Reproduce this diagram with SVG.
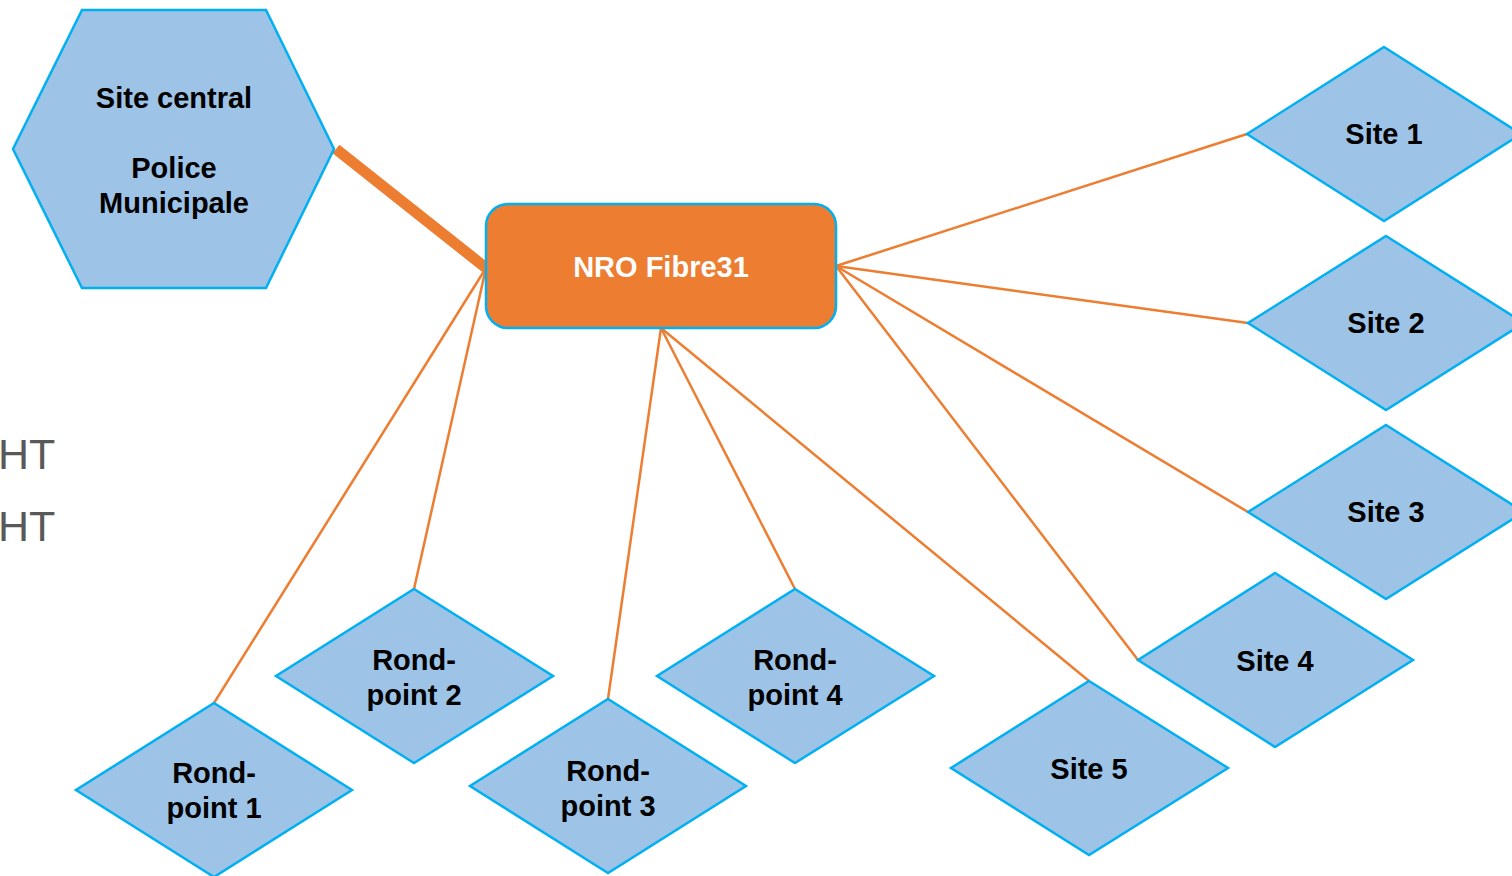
<svg xmlns="http://www.w3.org/2000/svg" width="1512" height="876" viewBox="0 0 1512 876">
<style>
.shape{fill:#9DC3E6;stroke:#00B0F0;stroke-width:2.5}
.lbl{font-family:"Liberation Sans",Arial,sans-serif;font-weight:bold;font-size:29px;fill:#000;text-anchor:middle}
.conn{stroke:#ED7D31;stroke-width:2.5;fill:none}
.ht{font-family:"Liberation Sans",Arial,sans-serif;font-size:43px;fill:#595959}
</style>
<rect width="1512" height="876" fill="#fff"/>
<text class="ht" x="-2" y="469">HT</text>
<text class="ht" x="-2" y="541">HT</text>
<g id="connectors">
<line x1="336" y1="149" x2="486" y2="268" stroke="#ED7D31" stroke-width="11"/>
<line class="conn" x1="486" y1="268" x2="214" y2="703"/>
<line class="conn" x1="486" y1="268" x2="414" y2="589"/>
<line class="conn" x1="661" y1="328" x2="608" y2="699"/>
<line class="conn" x1="661" y1="328" x2="795" y2="589"/>
<line class="conn" x1="661" y1="328" x2="1089" y2="681"/>
<line class="conn" x1="836" y1="266" x2="1138" y2="660"/>
<line class="conn" x1="836" y1="266" x2="1248" y2="512"/>
<line class="conn" x1="836" y1="266" x2="1248" y2="323"/>
<line class="conn" x1="836" y1="266" x2="1247" y2="134"/>
</g>
<g id="site-central">
<polygon class="shape" points="82,10 266,10 334,149 266,288 82,288 13,149"/>
<text class="lbl" x="174" y="108">Site central</text>
<text class="lbl" x="174" y="178">Police</text>
<text class="lbl" x="174" y="213">Municipale</text>
</g>
<g id="nro">
<rect x="486" y="204" width="350" height="124" rx="22" fill="#ED7D31" stroke="#00B0F0" stroke-width="2.5"/>
<text class="lbl" x="661" y="277" fill="#fff" style="fill:#fff">NRO Fibre31</text>
</g>
<g id="site1">
<polygon class="shape" points="1384,47 1521,134 1384,221 1247,134"/>
<text class="lbl" x="1384" y="144">Site 1</text>
</g>
<g id="site2">
<polygon class="shape" points="1386,236 1524,323 1386,410 1248,323"/>
<text class="lbl" x="1386" y="333">Site 2</text>
</g>
<g id="site3">
<polygon class="shape" points="1386,425 1524,512 1386,599 1248,512"/>
<text class="lbl" x="1386" y="522">Site 3</text>
</g>
<g id="site4">
<polygon class="shape" points="1275,573 1413,660 1275,747 1138,660"/>
<text class="lbl" x="1275" y="671">Site 4</text>
</g>
<g id="site5">
<polygon class="shape" points="1089,681 1228,768 1089,855 951,768"/>
<text class="lbl" x="1089" y="779">Site 5</text>
</g>
<g id="rp1">
<polygon class="shape" points="214,703 352,790 214,877 76,790"/>
<text class="lbl" x="214" y="783">Rond-</text>
<text class="lbl" x="214" y="818">point 1</text>
</g>
<g id="rp2">
<polygon class="shape" points="414,589 553,676 414,763 276,676"/>
<text class="lbl" x="414" y="670">Rond-</text>
<text class="lbl" x="414" y="705">point 2</text>
</g>
<g id="rp3">
<polygon class="shape" points="608,699 746,786 608,873 470,786"/>
<text class="lbl" x="608" y="781">Rond-</text>
<text class="lbl" x="608" y="816">point 3</text>
</g>
<g id="rp4">
<polygon class="shape" points="795,589 934,676 795,763 657,676"/>
<text class="lbl" x="795" y="670">Rond-</text>
<text class="lbl" x="795" y="705">point 4</text>
</g>
</svg>
